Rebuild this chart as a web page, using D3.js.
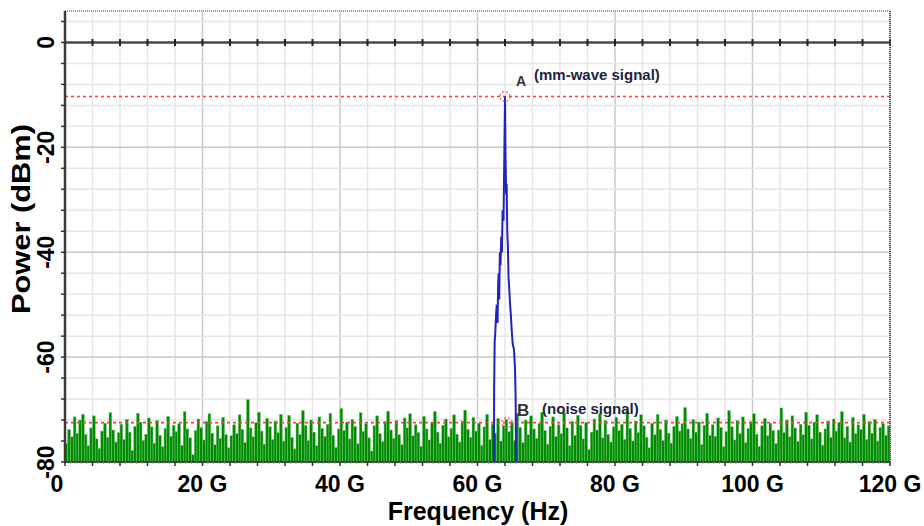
<!DOCTYPE html>
<html>
<head>
<meta charset="utf-8">
<script src="https://cdn.jsdelivr.net/npm/d3@7"></script>
<style>
  html, body { margin: 0; padding: 0; background: #fff; }
  svg { display: block; font-family: "Liberation Sans", Arial, sans-serif; }
</style>
</head>
<body>
<svg id="chart" width="924" height="526"></svg>
<script>
// ---------------- data ----------------
const xTickValues = [0, 20, 40, 60, 80, 100, 120];
const xTickLabels = ["0", "20 G", "40 G", "60 G", "80 G", "100 G", "120 G"];
const yTickValues = [0, -20, -40, -60, -80];
const yTickLabels = ["0", "-20", "-40", "-60", "-80"];

// mm-wave signal trace (frequency in GHz, power in dBm)
const sigFreq  = [62.40, 62.42, 62.50, 62.58, 62.70, 62.80, 62.92, 63.00, 63.08, 63.16, 63.25, 63.35, 63.45, 63.55, 63.65, 63.78, 63.88, 64.00, 64.08, 64.16, 64.24, 64.33, 64.42, 64.52, 64.62, 64.72, 64.85, 64.98, 65.12, 65.30, 65.45, 65.55, 65.60];
const sigPower = [-80.0, -66.0, -57.0, -55.5, -52.0, -50.0, -53.5, -46.0, -44.0, -49.0, -40.0, -42.5, -37.0, -40.0, -32.0, -34.0, -24.0, -10.3, -22.0, -29.0, -27.0, -36.0, -39.0, -45.0, -47.0, -49.5, -52.0, -55.0, -57.5, -58.5, -62.0, -68.0, -80.0];

// noise floor, one value every 0.4 GHz from 0 to 120 GHz
const noiseStep = 0.4;
const noisePower = [
 -76.5,-73.8,-75.2,-71.4,-74.6,-72.0,-70.9,-74.8,-76.9,-73.5,-71.2,-75.6,-77.4,-74.1,-72.6,-75.3,-70.6,-73.9,-76.2,-74.4,
 -72.8,-75.7,-71.9,-74.3,-77.8,-73.2,-70.7,-72.4,-75.9,-74.7,-71.6,-73.3,-76.4,-72.1,-74.9,-77.1,-73.6,-71.3,-75.1,-73.0,
 -74.2,-72.7,-76.8,-70.4,-73.7,-75.4,-78.6,-74.0,-71.8,-73.4,-75.8,-72.3,-70.8,-74.5,-76.7,-73.1,-75.5,-71.5,-74.8,-77.3,
 -75.0,-72.9,-74.6,-71.0,-73.8,-76.3,-68.1,-73.5,-75.2,-72.5,-70.5,-74.1,-76.6,-71.7,-73.3,-75.7,-72.2,-74.4,-70.9,-76.0,
 -73.4,-71.1,-75.3,-77.5,-72.6,-74.7,-70.2,-73.0,-75.9,-72.0,-74.3,-76.9,-71.4,-73.6,-75.1,-72.8,-70.7,-74.9,-77.2,-73.7,
 -69.8,-74.0,-72.4,-75.6,-71.9,-73.2,-76.5,-70.6,-74.2,-72.7,-75.4,-77.9,-73.1,-71.2,-74.6,-76.1,-72.3,-70.3,-73.9,-75.5,
 -72.1,-74.8,-76.7,-71.6,-73.5,-70.8,-75.0,-72.9,-74.4,-77.0,-71.3,-73.7,-75.8,-72.5,-70.4,-74.3,-76.4,-73.0,-71.8,-75.2,
 -73.6,-71.0,-74.7,-76.2,-72.2,-70.1,-73.8,-75.3,-71.5,-74.1,-72.6,-76.8,-73.3,-70.9,-75.7,-72.8,-74.5,-71.7,-76.0,-73.1,
 -71.9,-74.2,-72.4,-75.9,-70.7,-73.4,-76.3,-72.0,-74.8,-71.2,-73.7,-75.5,-72.7,-70.5,-74.0,-76.6,-73.2,-71.4,-75.1,-72.9,
 -74.6,-70.6,-73.5,-76.9,-72.3,-74.9,-71.1,-73.0,-75.6,-72.5,-77.6,-74.3,-71.8,-73.9,-70.8,-75.4,-72.1,-74.7,-76.2,-73.3,
 -71.5,-74.0,-72.8,-75.7,-70.3,-73.6,-76.0,-72.2,-74.4,-71.0,-73.1,-75.3,-77.3,-72.6,-74.8,-70.9,-73.8,-75.9,-72.0,-74.5,
 -76.4,-73.2,-71.3,-74.1,-72.7,-69.6,-73.7,-75.5,-71.9,-74.3,-72.4,-76.7,-73.0,-70.7,-74.9,-72.9,-75.1,-71.6,-73.4,-77.1,
 -74.2,-70.2,-73.3,-75.8,-72.1,-74.6,-71.4,-76.3,-73.6,-72.3,-70.8,-74.7,-77.0,-73.1,-71.7,-75.0,-72.6,-74.0,-76.5,-73.9,
 -69.7,-74.4,-72.0,-75.2,-71.2,-73.5,-76.1,-72.8,-74.8,-70.5,-73.0,-75.6,-72.4,-71.0,-74.3,-76.8,-73.7,-72.2,-75.3,-71.8,
 -74.1,-72.5,-70.4,-75.4,-73.2,-76.2,-71.5,-74.6,-72.9,-73.8,-70.9,-75.7,-72.3,-74.5,-71.9,-76.0,-73.4,-72.7,-74.9,-73.1
];

// marker lines / annotations
const markerLevels = [-10.3, -72.5];
const markerFreqs  = [64.0, 64.3];
const markerLetters = ["A", "B"];
const markerTexts   = ["(mm-wave signal)", "(noise signal)"];

// ---------------- layout ----------------
const svg = d3.select("#chart");
const L = 65, R = 890, T = 11, B = 462;
const x = d3.scaleLinear().domain([0, 120]).range([L, R]);
const y = d3.scaleLinear().domain([-80, 6]).range([B, T]);

// grid
const gMinorX = d3.range(0, 120.001, 4);
const gMinorY = d3.range(-80, 6, 4);
const grid = svg.append("g");
grid.selectAll(".vx").data(gMinorX).join("line")
  .attr("x1", d => x(d)).attr("x2", d => x(d)).attr("y1", T).attr("y2", B)
  .attr("stroke", d => d % 20 === 0 ? "#c9c9c9" : "#e6e6e6").attr("stroke-width", 1.5);
grid.selectAll(".hy").data(gMinorY).join("line")
  .attr("y1", d => y(d)).attr("y2", d => y(d)).attr("x1", L).attr("x2", R)
  .attr("stroke", d => d % 20 === 0 ? "#c9c9c9" : "#e6e6e6").attr("stroke-width", 1.5);

// noise bars
const bw = x(noiseStep) - x(0);
svg.append("g").selectAll("rect").data(noisePower).join("rect")
  .attr("x", (d, i) => x(i * noiseStep))
  .attr("width", bw)
  .attr("y", d => y(d))
  .attr("height", d => y(-80) - y(d))
  .attr("fill", "#008c00")
  .attr("stroke", "#6cc46c").attr("stroke-width", 0.5);

// red dashed marker lines
svg.append("g").selectAll("line").data(markerLevels).join("line")
  .attr("x1", L).attr("x2", R).attr("y1", d => y(d)).attr("y2", d => y(d))
  .attr("stroke", "#ff3b3b").attr("stroke-width", 1.6).attr("stroke-dasharray", "3,3");

// 0 dBm reference line with ticks
svg.append("line").attr("x1", L).attr("x2", R).attr("y1", y(0)).attr("y2", y(0))
  .attr("stroke", "#4a4a4a").attr("stroke-width", 2.5);
svg.append("g").selectAll("line").data(gMinorX.slice(1)).join("line")
  .attr("x1", d => x(d)).attr("x2", d => x(d)).attr("y1", y(0) - 3.5).attr("y2", y(0) + 3.5)
  .attr("stroke", "#222").attr("stroke-width", 2);

// signal trace
const line = d3.line().x(d => x(d[0])).y(d => y(d[1]));
svg.append("path").datum(sigFreq.map((f, i) => [f, sigPower[i]]))
  .attr("d", line).attr("fill", "none")
  .attr("stroke", "#2222c0").attr("stroke-width", 2).attr("stroke-linejoin", "miter");

// frame: top (dotted gray), right (dotted dark)
svg.append("line").attr("x1", L).attr("x2", R).attr("y1", T).attr("y2", T)
  .attr("stroke", "#9a9a9a").attr("stroke-width", 2).attr("stroke-dasharray", "1,1");
svg.append("line").attr("x1", R).attr("x2", R).attr("y1", T).attr("y2", B)
  .attr("stroke", "#555").attr("stroke-width", 2).attr("stroke-dasharray", "1,1");

// bottom axis
svg.append("line").attr("x1", L).attr("x2", R).attr("y1", B).attr("y2", B)
  .attr("stroke", "#444").attr("stroke-width", 2);
svg.append("g").selectAll("line").data(d3.range(0, 120.001, 0.8)).join("line")
  .attr("x1", d => x(d)).attr("x2", d => x(d)).attr("y1", B).attr("y2", B + 2)
  .attr("stroke", "#999").attr("stroke-width", 1);
svg.append("g").selectAll("line").data(gMinorX).join("line")
  .attr("x1", d => x(d)).attr("x2", d => x(d)).attr("y1", B).attr("y2", B + 4)
  .attr("stroke", "#333").attr("stroke-width", 1.5);

// left axis
svg.append("line").attr("x1", L).attr("x2", L).attr("y1", T).attr("y2", B)
  .attr("stroke", "#3a3a3a").attr("stroke-width", 2.5);
svg.append("g").selectAll("line").data(gMinorY).join("line")
  .attr("x1", L - 4).attr("x2", L).attr("y1", d => y(d)).attr("y2", d => y(d))
  .attr("stroke", "#333").attr("stroke-width", 1.5);

// marker circles
svg.append("g").selectAll("circle").data(markerLevels).join("circle")
  .attr("cx", (d, i) => x(markerFreqs[i])).attr("cy", d => y(d)).attr("r", 5)
  .attr("fill", "none").attr("stroke", "#ff5a5a").attr("stroke-width", 1.3)
  .attr("stroke-dasharray", "2,2");

// marker labels
const ann = svg.append("g");
ann.append("text").attr("x", x(markerFreqs[0]) + 11).attr("y", y(markerLevels[0]) - 10)
  .attr("font-size", 14).attr("font-weight", "bold").attr("fill", "#333").text(markerLetters[0]);
ann.append("text").attr("x", x(markerFreqs[0]) + 29).attr("y", y(markerLevels[0]) - 16)
  .attr("font-size", 15).attr("font-weight", "bold").attr("fill", "#1c2440").text(markerTexts[0]);
ann.append("text").attr("x", x(markerFreqs[1]) + 10).attr("y", y(markerLevels[1]) - 7)
  .attr("font-size", 17).attr("font-weight", "bold").attr("fill", "#333").text(markerLetters[1]);
ann.append("text").attr("x", x(markerFreqs[1]) + 35).attr("y", y(markerLevels[1]) - 9)
  .attr("font-size", 15).attr("font-weight", "bold").attr("fill", "#1c2440").text(markerTexts[1]);

// x tick labels
svg.append("g").selectAll("text").data(xTickValues).join("text")
  .attr("x", (d, i) => x(d) + (i === 0 ? -8 : 0)).attr("y", 492)
  .attr("text-anchor", "middle").attr("font-size", 23).attr("font-weight", "bold")
  .attr("fill", "#000").text((d, i) => xTickLabels[i]);

// y tick labels (rotated)
svg.append("g").selectAll("text").data(yTickValues).join("text")
  .attr("transform", d => `translate(46,${y(d)}) rotate(-90)`)
  .attr("text-anchor", "middle").attr("dominant-baseline", "central")
  .attr("font-size", 23).attr("font-weight", "bold").attr("fill", "#000")
  .text((d, i) => yTickLabels[i]);

// axis titles
svg.append("text").attr("x", 478).attr("y", 520).attr("text-anchor", "middle")
  .attr("font-size", 25).attr("font-weight", "bold").attr("fill", "#000").text("Frequency (Hz)");
svg.append("text").attr("transform", "translate(21,219) rotate(-90)")
  .attr("text-anchor", "middle").attr("dominant-baseline", "central")
  .attr("font-size", 26).attr("font-weight", "bold").attr("fill", "#000")
  .attr("textLength", 190).attr("lengthAdjust", "spacingAndGlyphs").text("Power (dBm)");
</script>
</body>
</html>
